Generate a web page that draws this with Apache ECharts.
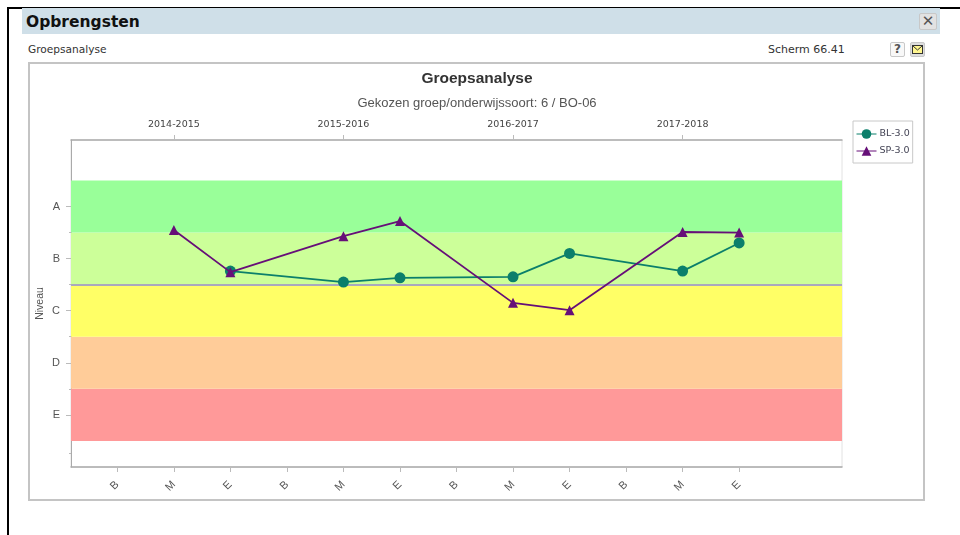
<!DOCTYPE html>
<html>
<head>
<meta charset="utf-8">
<style>
  html, body { margin: 0; padding: 0; background: #fff; }
  body { width: 960px; height: 535px; overflow: hidden; position: relative; font-family: "DejaVu Sans", sans-serif; color: #333; }
  .abs { position: absolute; box-sizing: border-box; }
  .btn { border: 1px solid #c8c8c8; border-radius: 2px; background: #f2f2f2; text-align: center; color: #555; font-weight: bold; }
  #chart { position: absolute; left: 0; top: 0; width: 960px; height: 535px; }
</style>
</head>
<body>
<div class="abs" style="left:7px;top:7px;width:2px;height:528px;background:#000"></div>
<div class="abs" style="left:7px;top:7px;width:933px;height:1.5px;background:#000"></div>
<div class="abs" style="left:940px;top:6.5px;width:20px;height:2px;background:#000"></div>
<div class="abs" style="left:22px;top:8px;width:918px;height:26px;background:#cfdfe8"></div>
<div class="abs" style="left:26px;top:13px;font-size:15.5px;font-weight:bold;color:#111">Opbrengsten</div>
<div class="abs btn" style="left:919px;top:13px;width:18px;height:17px;font-size:15px;line-height:15px;background:#e2e2e2">✕</div>
<div class="abs" style="left:28px;top:43px;font-size:10.6px">Groepsanalyse</div>
<div class="abs" style="left:768px;top:43px;font-size:11px">Scherm 66.41</div>
<div class="abs btn" style="left:890px;top:42px;width:15px;height:15px;font-size:12px;line-height:13px;background:#f8f8f8">?</div>
<div class="abs btn" style="left:910px;top:42px;width:15px;height:15px;background:#ddd;padding:2px 1px">
  <svg width="11" height="9" style="display:block"><rect x="0.5" y="0.5" width="10" height="8" fill="#fff68f" stroke="#333"/><path d="M1 1 L5.5 5 L10 1" fill="none" stroke="#333"/></svg>
</div>
<div class="abs" style="left:28px;top:62px;width:897px;height:439px;border:2px solid #c4c4c4"></div>
<div id="chart"></div>
<script src="https://cdn.jsdelivr.net/npm/echarts@6/dist/echarts.min.js"></script>
<script>
// meetmomenten per schooljaar
const periodLabels = ['B', 'M', 'E', 'B', 'M', 'E', 'B', 'M', 'E', 'B', 'M', 'E'];
const periodPositions = [1, 2, 3, 4, 5, 6, 7, 8, 9, 10, 11, 12];
const yearLabels = ['2014-2015', '2015-2016', '2016-2017', '2017-2018'];
const yearPositions = [2, 5, 8, 11];

const levelLabels = ['E', 'D', 'C', 'B', 'A'];
const levelPositions = [1, 2, 3, 4, 5];
const minorTickPositions = [0.27, 1.5, 2.5, 3.5, 4.5];

const blPositions = [3, 5, 6, 8, 9, 11, 12];
const blValues = [3.76, 3.55, 3.63, 3.65, 4.1, 3.76, 4.3];
const spPositions = [2, 3, 5, 6, 8, 9, 11, 12];
const spValues = [4.55, 3.74, 4.43, 4.72, 3.15, 3.01, 4.51, 4.5];

// niveaubanden: E t/m A
const bandFrom = [0.5, 1.5, 2.5, 3.5, 4.5];
const bandTo = [1.5, 2.5, 3.5, 4.5, 5.5];
const bandColors = ['#ff9999', '#ffcc99', '#ffff66', '#ccff99', '#99ff99'];
const norm = 3.5;

const xMin = 0.18;
const xMax = 13.82;
const yMin = 0;
const yMax = 6.276;

const axisColor = '#aaaaaa';
const textColor = '#555555';
const tickFont = 'DejaVu Sans';

const chart = echarts.init(document.getElementById('chart'), null, { renderer: 'canvas' });

chart.setOption({
  animation: false,
  backgroundColor: 'transparent',
  title: [
    {
      text: 'Groepsanalyse',
      left: 472, top: 66, textAlign: 'center',
      textStyle: { fontFamily: 'Liberation Sans', fontSize: 15.5, fontWeight: 'bold', color: '#333' }
    },
    {
      text: 'Gekozen groep/onderwijssoort: 6 / BO-06',
      left: 472, top: 92, textAlign: 'center',
      textStyle: { fontFamily: 'Liberation Sans', fontSize: 13, fontWeight: 'normal', color: '#555' }
    }
  ],
  legend: {
    orient: 'vertical',
    left: 853, top: 121,
    padding: [8, 3, 7, 3],
    itemGap: 7,
    itemWidth: 20,
    itemHeight: 12,
    borderColor: '#c8c8c8',
    borderWidth: 1,
    lineStyle: { width: 1 },
    textStyle: { fontFamily: tickFont, fontSize: 9.5, color: '#445', padding: [0, 0, 0, -2] },
    data: ['BL-3.0', 'SP-3.0']
  },
  grid: {
    left: 71, right: 118, top: 140, bottom: 68,
    show: true, borderColor: '#e2e2e2', borderWidth: 1, backgroundColor: '#fff'
  },
  xAxis: [
    {
      type: 'value', position: 'bottom', min: xMin, max: xMax,
      splitLine: { show: false },
      axisLine: { onZero: false, lineStyle: { color: axisColor, width: 1.5 } },
      axisTick: { customValues: periodPositions, length: 5, lineStyle: { color: '#bbb' } },
      axisLabel: {
        customValues: periodPositions, rotate: 45, margin: 16,
        fontFamily: 'Liberation Sans', fontSize: 11, color: textColor,
        formatter: v => periodLabels[periodPositions.indexOf(v)]
      }
    },
    {
      type: 'value', position: 'top', min: xMin, max: xMax,
      splitLine: { show: false },
      axisLine: { onZero: false, lineStyle: { color: axisColor, width: 1.5 } },
      axisTick: { customValues: yearPositions, length: 5, lineStyle: { color: '#bbb' } },
      axisLabel: {
        customValues: yearPositions, margin: 10,
        fontFamily: tickFont, fontSize: 9.5, color: '#444',
        formatter: v => yearLabels[yearPositions.indexOf(v)]
      }
    }
  ],
  yAxis: [
    {
      type: 'value', min: yMin, max: yMax,
      name: 'Niveau', nameLocation: 'middle', nameGap: 25, nameRotate: 90,
      nameMoveOverlap: false,
      nameTextStyle: { fontFamily: 'Liberation Sans', fontSize: 10.5, color: textColor },
      splitLine: { show: false },
      axisLine: { show: true, onZero: false, lineStyle: { color: axisColor, width: 1 } },
      axisTick: { customValues: levelPositions, length: 5, lineStyle: { color: '#bbb' } },
      axisLabel: {
        customValues: levelPositions, margin: 11,
        fontFamily: 'Liberation Sans', fontSize: 11, color: textColor,
        formatter: v => levelLabels[levelPositions.indexOf(v)]
      }
    },
    {
      type: 'value', position: 'left', min: yMin, max: yMax,
      splitLine: { show: false },
      axisLine: { show: false, onZero: false },
      axisLabel: { show: false },
      axisTick: { customValues: minorTickPositions, length: 2, lineStyle: { color: '#bbb' } }
    }
  ],
  series: [
    {
      name: 'BL-3.0',
      type: 'line',
      z: 3,
      symbol: 'circle',
      symbolSize: 11,
      lineStyle: { width: 1.8, color: '#0b7f6b' },
      itemStyle: { color: '#0b7f6b' },
      data: blPositions.map((x, i) => [x, blValues[i]]),
      markArea: {
        silent: true,
        z: 1,
        itemStyle: { opacity: 1 },
        data: bandColors.map((color, i) => [
          { yAxis: bandFrom[i], xAxis: xMin, itemStyle: { color } },
          { yAxis: bandTo[i], xAxis: xMax }
        ])
      },
      markLine: {
        silent: true,
        z: 2,
        symbol: 'none',
        label: { show: false },
        lineStyle: { type: 'solid', color: '#a9a9bd', width: 2 },
        data: [{ yAxis: norm }]
      }
    },
    {
      name: 'SP-3.0',
      type: 'line',
      z: 4,
      symbol: 'triangle',
      symbolSize: 10,
      lineStyle: { width: 1.8, color: '#660f78' },
      itemStyle: { color: '#660f78' },
      data: spPositions.map((x, i) => [x, spValues[i]])
    }
  ]
});
</script>
</body>
</html>
